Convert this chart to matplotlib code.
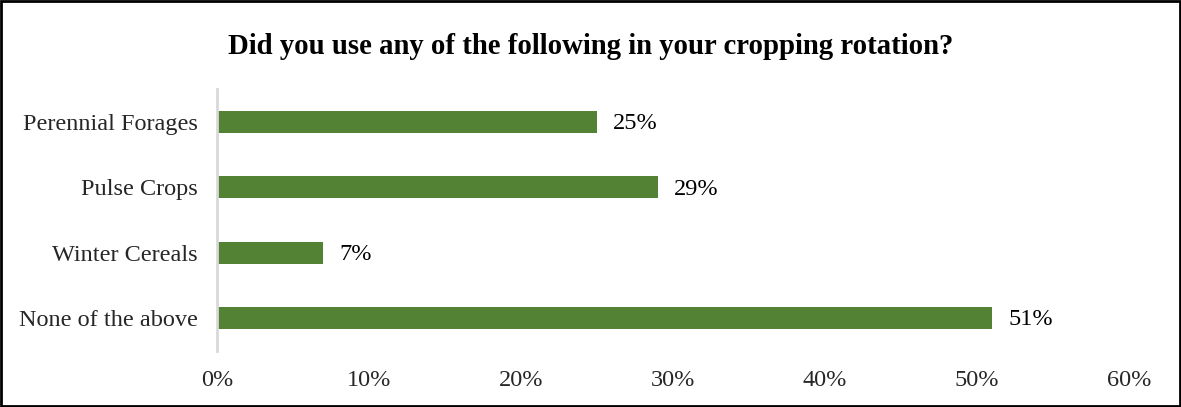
import matplotlib
matplotlib.use("Agg")
import matplotlib.pyplot as plt
from matplotlib.patches import Rectangle

categories = ["Perennial Forages", "Pulse Crops", "Winter Cereals", "None of the above"]
values = [25, 29, 7, 51]
xticks = [0, 10, 20, 30, 40, 50, 60]

plt.rcParams["font.family"] = ["Liberation Serif", "DejaVu Serif"]

fig = plt.figure(figsize=(11.81, 4.07), dpi=100)
ax = fig.add_axes([0.1837, 0.1383, 0.7725, 0.6423])

ypos = list(range(len(categories)))
ax.barh(ypos, values, height=0.34, color="#548235")
ax.set_ylim(len(categories) - 0.5, -0.5)
ax.set_xlim(0, 60)

# value labels right of each bar
for y, v in zip(ypos, values):
    ax.text(v + 1.05, y + 0.03, f"{v}%", va="center", ha="left", fontsize=17.5, color="#000000")

ax.set_yticks(ypos)
ax.set_yticklabels(categories, fontsize=17.5, color="#262626")
ax.set_xticks(xticks)
ax.set_xticklabels([f"{t}%" for t in xticks], fontsize=17.5, color="#262626")
ax.tick_params(axis="both", length=0)
ax.tick_params(axis="y", pad=14)
ax.tick_params(axis="x", pad=14)

for s in ["top", "right", "bottom"]:
    ax.spines[s].set_visible(False)
ax.spines["left"].set_color("#d9d9d9")
ax.spines["left"].set_linewidth(2)

fig.text(0.5, 0.885, "Did you use any of the following in your cropping rotation?",
         ha="center", va="center", fontsize=20.7, fontweight="bold")

# outer frame
fig.patches.append(Rectangle((0.001, 0.002), 0.998, 0.996, transform=fig.transFigure,
                             fill=False, edgecolor="black", linewidth=2))

fig.savefig("out.png", dpi=100)
